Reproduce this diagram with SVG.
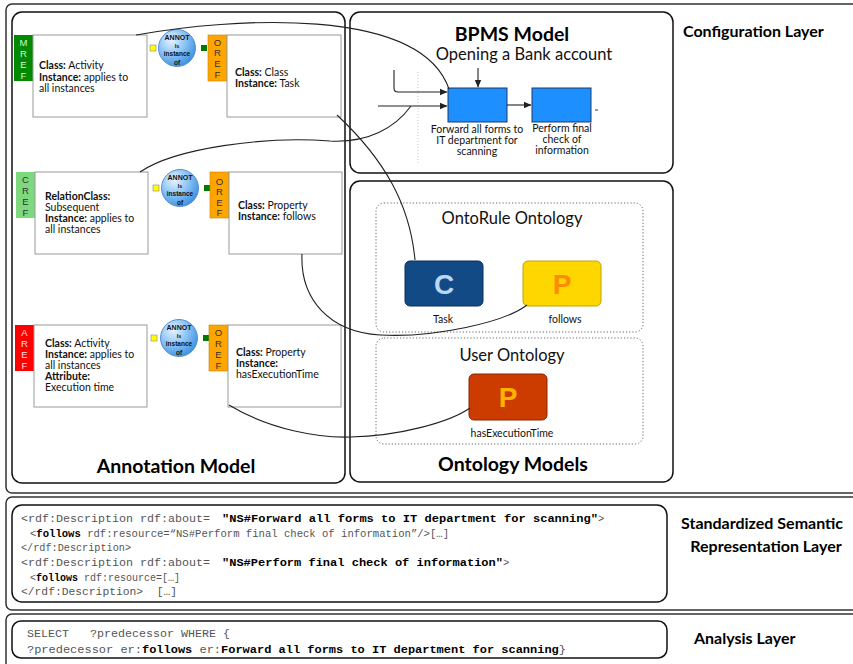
<svg xmlns="http://www.w3.org/2000/svg" xmlns:xlink="http://www.w3.org/1999/xlink" width="853" height="664" viewBox="0 0 853 664">
<style>
.layer{fill:none;stroke:#333;stroke-width:1.5}
.panel{fill:#fff;stroke:#111;stroke-width:1.5}
.abox{fill:#fff;stroke:#9a9a9a;stroke-width:1}
.t{font-family:Lato,"Liberation Sans",sans-serif;font-size:10.5px;fill:#111}
.b{font-weight:bold}
.tag{font-family:"Liberation Sans",Arial,sans-serif;font-size:9.5px;text-anchor:middle}
.title{font-family:Lato,"Liberation Sans",sans-serif;font-weight:bold;font-size:19.5px;fill:#000;text-anchor:middle}
.sub{font-family:Lato,"Liberation Sans",sans-serif;font-size:16.5px;fill:#111;text-anchor:middle}
.lbl{font-family:Lato,"Liberation Sans",sans-serif;font-size:10.5px;fill:#111;text-anchor:middle}
.lay{font-family:Lato,"Liberation Sans",sans-serif;font-weight:bold;font-size:16px;fill:#000}
.code{font-family:"Liberation Mono","Courier New",monospace;font-size:10.5px;fill:#555}
.cb{font-family:"Liberation Mono","Courier New",monospace;font-size:10.5px;font-weight:bold;fill:#000}
.code .b{fill:#000}
.conn{fill:none;stroke:#222;stroke-width:1.1}
.dot{fill:none;stroke:#666;stroke-width:1;stroke-dasharray:1.2 2}
.big{font-family:"Liberation Sans",Arial,sans-serif;font-weight:bold;font-size:28px;text-anchor:middle}
.an{font-family:"Liberation Sans",Arial,sans-serif;font-weight:bold;text-anchor:middle;fill:#111}
</style>
<defs>
<radialGradient id="ag" cx="0.35" cy="0.3" r="0.75">
<stop offset="0" stop-color="#e6f3ff"/>
<stop offset="0.5" stop-color="#8cc4f5"/>
<stop offset="1" stop-color="#3b8fe0"/>
</radialGradient>
<clipPath id="cc"><circle cx="0" cy="0" r="18.5"/></clipPath>
<g id="annot">
<circle cx="0" cy="0" r="18.5" fill="url(#ag)" stroke="#5b8fcf" stroke-width="1"/>
<g clip-path="url(#cc)">
<text class="an" x="0" y="-8" font-size="7">ANNOT</text>
<text class="an" x="0" y="0" font-size="5.5">Is</text>
<text class="an" x="0" y="7.5" font-size="6.5" font-weight="normal">instance</text>
<text class="an" x="0" y="17" font-size="6.5" font-weight="normal">of</text>
</g>
</g>
<marker id="ah" markerWidth="8" markerHeight="8" refX="7" refY="4" orient="auto" markerUnits="userSpaceOnUse">
<path d="M0,0.8 L7.5,4 L0,7.2 Z" fill="#222"/>
</marker>
</defs>
<rect width="853" height="664" fill="#fff"/>

<g id="layers">
<rect class="layer" x="6" y="4" width="860" height="489" rx="6"/>
<rect class="layer" x="6" y="497" width="860" height="113" rx="6"/>
<rect class="layer" x="6" y="614" width="860" height="60" rx="6"/>
<text class="lay" x="683" y="37">Configuration Layer</text>
<text class="lay" x="681" y="529">Standardized Semantic</text>
<text class="lay" x="766" y="552" text-anchor="middle">Representation Layer</text>
<text class="lay" x="694" y="644">Analysis Layer</text>
</g>

<g id="annotation-model">
<rect class="panel" x="12" y="12" width="333" height="471" rx="10"/>
<text class="title" x="176" y="473">Annotation Model</text>
</g>

<g id="bpms-model">
<rect class="panel" x="350" y="12" width="323" height="161" rx="10"/>
<text class="title" x="512" y="41">BPMS Model</text>
<text class="sub" x="524" y="60">Opening a Bank account</text>
<line x1="418" y1="72" x2="418" y2="165" stroke="#ccc" stroke-width="1" stroke-dasharray="1 2"/>
</g>

<g id="ontology-models">
<rect class="panel" x="350" y="181" width="323" height="301" rx="10"/>
<text class="title" x="513" y="471">Ontology Models</text>
</g>

<g id="row1-mref">
<rect x="14" y="35" width="19" height="46" fill="#008a00"/>
<text class="tag" fill="#d8f5d8"><tspan x="23.5" y="46">M</tspan><tspan x="23.5" y="57">R</tspan><tspan x="23.5" y="68">E</tspan><tspan x="23.5" y="79">F</tspan></text>
<rect class="abox" x="33" y="35" width="114" height="82"/>
<text class="t" x="39" y="69"><tspan class="b">Class:</tspan> Activity</text>
<text class="t" x="39" y="81"><tspan class="b">Instance:</tspan> applies to</text>
<text class="t" x="39" y="92">all instances</text>
</g>
<g id="row1-annot">
<rect x="150" y="45" width="6" height="6" fill="#ffff00" stroke="#888" stroke-width="0.6"/>
<use xlink:href="#annot" x="177" y="48"/>
<rect x="201" y="45" width="6" height="6" fill="#007a00"/>
</g>
<g id="row1-oref">
<rect x="208" y="35" width="19" height="46" fill="#ffa500" stroke="#c98000" stroke-width="0.6"/>
<text class="tag" fill="#333"><tspan x="217.5" y="46">O</tspan><tspan x="217.5" y="56">R</tspan><tspan x="217.5" y="67">E</tspan><tspan x="217.5" y="78">F</tspan></text>
<rect class="abox" x="227" y="35" width="114" height="82"/>
<text class="t" x="235" y="76"><tspan class="b">Class:</tspan> Class</text>
<text class="t" x="235" y="87"><tspan class="b">Instance:</tspan> Task</text>
</g>

<g id="row2-cref">
<rect x="16" y="172" width="19" height="46" fill="#7ed87e"/>
<text class="tag" fill="#333"><tspan x="25.5" y="183">C</tspan><tspan x="25.5" y="194">R</tspan><tspan x="25.5" y="205">E</tspan><tspan x="25.5" y="216">F</tspan></text>
<rect class="abox" x="35" y="172" width="113" height="82"/>
<text class="t" x="45" y="200"><tspan class="b">RelationClass:</tspan></text>
<text class="t" x="45" y="211">Subsequent</text>
<text class="t" x="45" y="222"><tspan class="b">Instance:</tspan> applies to</text>
<text class="t" x="45" y="233">all instances</text>
</g>
<g id="row2-annot">
<rect x="153" y="185" width="6" height="6" fill="#ffff00" stroke="#888" stroke-width="0.6"/>
<use xlink:href="#annot" x="180" y="188"/>
<rect x="204" y="185" width="6" height="6" fill="#007a00"/>
</g>
<g id="row2-oref">
<rect x="210" y="172" width="19" height="46" fill="#ffa500" stroke="#c98000" stroke-width="0.6"/>
<text class="tag" fill="#333"><tspan x="219.5" y="185">O</tspan><tspan x="219.5" y="195">R</tspan><tspan x="219.5" y="206">E</tspan><tspan x="219.5" y="216">F</tspan></text>
<rect class="abox" x="229" y="172" width="113" height="82"/>
<text class="t" x="238" y="209"><tspan class="b">Class:</tspan> Property</text>
<text class="t" x="238" y="220"><tspan class="b">Instance:</tspan> follows</text>
</g>

<g id="row3-aref">
<rect x="15" y="325" width="19" height="46" fill="#ff0000"/>
<text class="tag" fill="#ffe0e0"><tspan x="24.5" y="336">A</tspan><tspan x="24.5" y="347">R</tspan><tspan x="24.5" y="358">E</tspan><tspan x="24.5" y="369">F</tspan></text>
<rect class="abox" x="34" y="325" width="113" height="82"/>
<text class="t" x="45" y="347"><tspan class="b">Class:</tspan> Activity</text>
<text class="t" x="45" y="358"><tspan class="b">Instance:</tspan> applies to</text>
<text class="t" x="45" y="369">all instances</text>
<text class="t" x="45" y="380"><tspan class="b">Attribute:</tspan></text>
<text class="t" x="45" y="391">Execution time</text>
</g>
<g id="row3-annot">
<rect x="151" y="335" width="6" height="6" fill="#ffff00" stroke="#888" stroke-width="0.6"/>
<use xlink:href="#annot" x="179" y="338"/>
<rect x="203" y="335" width="6" height="6" fill="#007a00"/>
</g>
<g id="row3-oref">
<rect x="209" y="325" width="19" height="46" fill="#ffa500" stroke="#c98000" stroke-width="0.6"/>
<text class="tag" fill="#333"><tspan x="218.5" y="336">O</tspan><tspan x="218.5" y="347">R</tspan><tspan x="218.5" y="358">E</tspan><tspan x="218.5" y="369">F</tspan></text>
<rect class="abox" x="228" y="325" width="113" height="82"/>
<text class="t" x="236" y="356"><tspan class="b">Class:</tspan> Property</text>
<text class="t" x="236" y="367"><tspan class="b">Instance:</tspan></text>
<text class="t" x="236" y="378">hasExecutionTime</text>
</g>

<g id="activity-forward">
<rect x="448" y="88" width="59" height="34" fill="#1e8fff" stroke="#1a3a66" stroke-width="1"/>
<text class="lbl"><tspan x="477" y="133">Forward all forms to</tspan><tspan x="477" y="144">IT department for</tspan><tspan x="477" y="155">scanning</tspan></text>
</g>
<g id="activity-perform">
<rect x="532" y="88" width="59" height="34" fill="#1e8fff" stroke="#1a3a66" stroke-width="1"/>
<line x1="595" y1="110" x2="598" y2="110" stroke="#333" stroke-width="1"/>
<text class="lbl"><tspan x="562" y="132">Perform final</tspan><tspan x="562" y="143">check of</tspan><tspan x="562" y="154">information</tspan></text>
</g>

<g id="ontorule-ontology">
<rect class="dot" x="376" y="203" width="267" height="129" rx="8"/>
<text class="sub" x="512" y="224" font-size="15.5">OntoRule Ontology</text>
</g>
<g id="concept-task">
<rect x="405" y="261" width="78" height="45" rx="5" fill="#124a86" stroke="#0b2f57" stroke-width="1"/>
<text class="big" x="444" y="294" fill="#b8d8f6">C</text>
<text class="lbl" x="443" y="323" font-size="11">Task</text>
</g>
<g id="property-follows">
<rect x="523" y="261" width="78" height="45" rx="5" fill="#ffd700" stroke="#c2a300" stroke-width="1"/>
<text class="big" x="562" y="294" fill="#ff8a00">P</text>
<text class="lbl" x="565" y="323" font-size="11">follows</text>
</g>
<g id="user-ontology">
<rect class="dot" x="376" y="338" width="267" height="106" rx="8"/>
<text class="sub" x="512" y="361" font-size="15.5">User Ontology</text>
</g>
<g id="property-hasExecutionTime">
<rect x="469" y="374" width="78" height="46" rx="5" fill="#cc3c00" stroke="#8a2800" stroke-width="1"/>
<text class="big" x="508" y="407" fill="#ffb300">P</text>
<text class="lbl" x="512" y="437" font-size="11">hasExecutionTime</text>
</g>

<g id="connectors">
<path class="conn" d="M136,35 C230,18 420,5 449,89"/>
<path class="conn" d="M140,172 C175,148 265,136 330,141 C368,143 395,128 411,106"/>
<path class="conn" d="M337,115 C385,160 410,205 415,260"/>
<path class="conn" d="M302,254 C300,300 330,332 380,335 C435,338 505,322 527,305"/>
<path class="conn" d="M229,405 C270,430 320,438 350,437 C400,436 450,422 470,408"/>
<path class="conn" d="M394,70 L394,88 Q394,92 398,92 L447,92" marker-end="url(#ah)"/>
<path class="conn" d="M378,106 L447,106" marker-end="url(#ah)"/>
<path class="conn" d="M478,68 L478,87" marker-end="url(#ah)"/>
<path class="conn" d="M507,105 L531,105" marker-end="url(#ah)"/>
</g>

<g id="rdf-representation">
<rect class="panel" x="12" y="505" width="655" height="97" rx="10"/>
<text class="code" x="21" y="522" textLength="196" lengthAdjust="spacingAndGlyphs" xml:space="preserve">&lt;rdf:Description rdf:about= </text>
<text class="cb" x="222" y="522" textLength="376" lengthAdjust="spacingAndGlyphs">"NS#Forward all forms to IT department for scanning"</text>
<text class="code" x="598" y="522">&gt;</text>
<text class="code" x="30" y="537" textLength="419" lengthAdjust="spacingAndGlyphs">&lt;<tspan class="b">follows</tspan> rdf:resource=“NS#Perform final check of information”/&gt;[…]</text>
<text class="code" x="21" y="551" textLength="110" lengthAdjust="spacingAndGlyphs">&lt;/rdf:Description&gt;</text>
<text class="code" x="21" y="566" textLength="196" lengthAdjust="spacingAndGlyphs" xml:space="preserve">&lt;rdf:Description rdf:about= </text>
<text class="cb" x="222" y="566" textLength="281" lengthAdjust="spacingAndGlyphs">"NS#Perform final check of information"</text>
<text class="code" x="503" y="566">&gt;</text>
<text class="code" x="30" y="581" textLength="150" lengthAdjust="spacingAndGlyphs">&lt;<tspan class="b">follows</tspan> rdf:resource=[…]</text>
<text class="code" x="21" y="595" textLength="156" lengthAdjust="spacingAndGlyphs" xml:space="preserve">&lt;/rdf:Description&gt;  […]</text>
</g>

<g id="sparql-query">
<rect class="panel" x="12" y="621" width="655" height="37" rx="9"/>
<text class="code" x="27" y="637" textLength="203" lengthAdjust="spacingAndGlyphs" xml:space="preserve">SELECT   ?predecessor WHERE {</text>
<text class="code" x="27" y="653" textLength="539" lengthAdjust="spacingAndGlyphs">?predecessor er:<tspan class="b">follows</tspan> er:<tspan class="b">Forward all forms to IT department for scanning</tspan>}</text>
</g>
</svg>
